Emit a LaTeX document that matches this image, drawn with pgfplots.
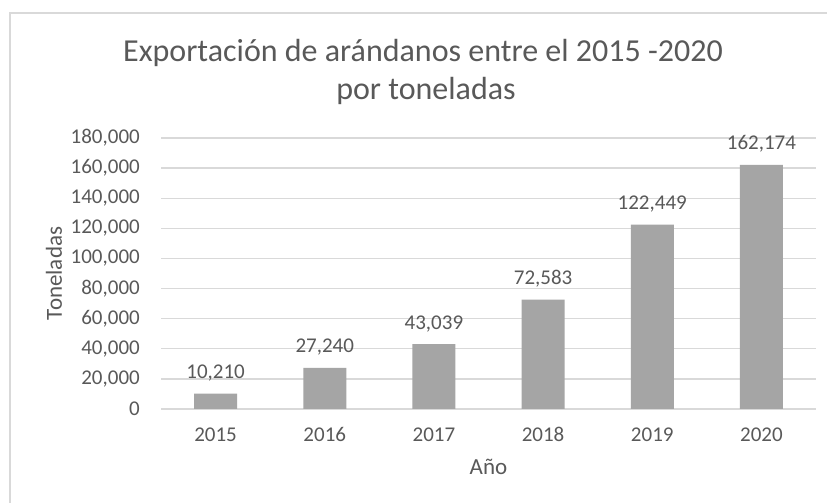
\documentclass[border=0pt]{standalone}
\usepackage{fontspec}
\setmainfont{Carlito}
\usepackage{pgfplots}
\pgfplotsset{compat=1.18}
\definecolor{txtc}{HTML}{595959}
\definecolor{gridc}{HTML}{D9D9D9}
\definecolor{barc}{HTML}{A5A5A5}
\begin{document}
\begin{tikzpicture}[x=1pt,y=1pt]
\path[use as bounding box] (0,0) rectangle (827,503);
\fill[white] (0,0) rectangle (827,503);
\draw[gridc, line width=2pt] (10,-20) rectangle (850,490);
\node[anchor=base, text=txtc, font=\fontsize{32}{36}\selectfont, inner sep=0] at (423,441) {Exportación de arándanos entre el 2015 -2020};
\node[anchor=base, text=txtc, font=\fontsize{32}{36}\selectfont, inner sep=0] at (426,403) {por toneladas};
\begin{axis}[
  at={(161pt,94pt)}, anchor=south west,
  scale only axis, width=655pt, height=271pt,
  xmin=-0.5, xmax=5.5, ymin=0, ymax=180000,
  scaled y ticks=false,
  ytick={0,20000,40000,60000,80000,100000,120000,140000,160000,180000},
  yticklabels={0,{20,000},{40,000},{60,000},{80,000},{100,000},{120,000},{140,000},{160,000},{180,000}},
  xtick={0,1,2,3,4,5},
  xticklabels={2015,2016,2017,2018,2019,2020},
  axis line style={draw=none},
  major tick length=0pt,
  ymajorgrids, grid style={draw=gridc, line width=1.3pt},
  ticklabel style={text=txtc, font=\fontsize{21}{25}\selectfont, inner sep=0pt},
  yticklabel style={anchor=east, xshift=-21pt},
  xticklabel style={anchor=base, yshift=-33pt},
  xlabel={Año}, ylabel={Toneladas},
  label style={text=txtc, font=\fontsize{23}{27}\selectfont, inner sep=0pt},
  xlabel style={at={(axis description cs:0.5,0)}, anchor=base, yshift=-66pt},
  ylabel style={at={(axis description cs:0,0.5)}, anchor=base, yshift=99pt},
  clip=false,
  ybar, bar width=43pt,
  point meta=explicit symbolic,
  nodes near coords={\pgfplotspointmeta},
  every node near coord/.append style={text=txtc, font=\fontsize{21}{25}\selectfont, anchor=base, inner sep=0pt, yshift=15pt},
]
\addplot[fill=barc, draw=none] coordinates {(0,10210) [{10,210}] (1,27240) [{27,240}] (2,43039) [{43,039}] (3,72583) [{72,583}] (4,122449) [{122,449}] (5,162174) [{162,174}]};
\end{axis}
\end{tikzpicture}
\end{document}
